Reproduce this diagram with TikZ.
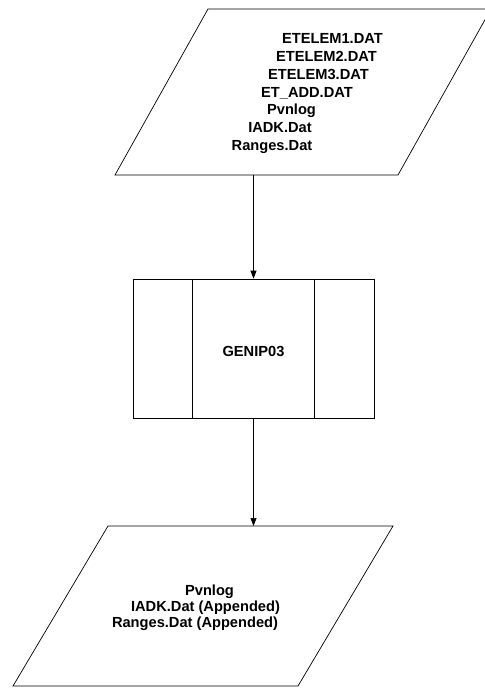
\documentclass[tikz,border=0pt]{standalone}
\usepackage{fontspec}
\setmainfont{Liberation Sans}
\usetikzlibrary{arrows.meta,calc}

\begin{document}
\begin{tikzpicture}[>={Triangle[length=2.4mm,width=1.8mm]},font=\fontsize{12.5}{15}\selectfont\bfseries,x=1.000cm,y=1.000cm,
 io/.style={draw,line width=0.6pt},
 proc/.style={draw,line width=0.6pt,minimum width=7.230cm,minimum height=4.170cm,inner sep=0pt},
 lab/.style={inner sep=0pt,anchor=base},
 flow/.style={->,line width=0.6pt}]
\useasboundingbox (0.000,0.000) rectangle (14.520,-20.670);
% input files
\coordinate (i1) at (6.240,-0.270);
\coordinate (i2) at (14.730,-0.270);
\coordinate (i3) at (11.940,-5.250);
\coordinate (i4) at (3.450,-5.250);
\draw[io] (i4) -- (i1) -- (i2) -- (i3) -- cycle;
\node[lab] (in1) at (9.975,-1.320) {ETELEM1.DAT};
\node[lab] (in2) at (9.795,-1.851) {ETELEM2.DAT};
\node[lab] (in3) at (9.555,-2.382) {ETELEM3.DAT};
\node[lab] (in4) at (9.210,-2.913) {ET\_ADD.DAT};
\node[lab] (in5) at (8.745,-3.444) {Pvnlog};
\node[lab] (in6) at (8.400,-3.975) {IADK.Dat};
\node[lab] (in7) at (8.160,-4.506) {Ranges.Dat};
\coordinate (inb) at (7.605,-5.250);
% program
\node[proc] (genip) at (7.605,-10.455) {};
\draw[io] ($(genip.north west)+(1.800,0)$) -- ($(genip.south west)+(1.800,0)$);
\draw[io] ($(genip.north east)+(-1.800,0)$) -- ($(genip.south east)+(-1.800,0)$);
\node[lab] (name) at (7.605,-10.680) {GENIP03};
% output files
\coordinate (o1) at (3.240,-15.780);
\coordinate (o2) at (11.790,-15.780);
\coordinate (o3) at (8.940,-20.580);
\coordinate (o4) at (0.390,-20.580);
\draw[io] (o4) -- (o1) -- (o2) -- (o3) -- cycle;
\coordinate (outt) at (7.605,-15.780);
\node[lab] (out1) at (6.285,-17.850) {Pvnlog};
\node[lab] (out2) at (6.165,-18.330) {IADK.Dat (Appended)};
\node[lab] (out3) at (5.850,-18.810) {Ranges.Dat (Appended)};
\draw[flow] (inb) -- (genip.north);
\draw[flow] (genip.south) -- (outt);
\end{tikzpicture}
\end{document}
